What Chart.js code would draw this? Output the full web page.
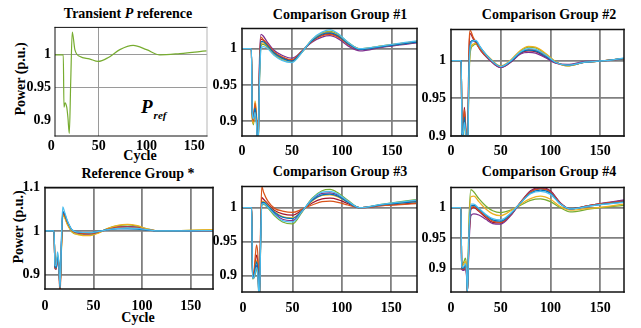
<!DOCTYPE html>
<html>
<head>
<meta charset="utf-8">
<script src="https://cdn.jsdelivr.net/npm/chart.js@4.4.0/dist/chart.umd.min.js"></script>
<style>
  html, body { margin: 0; padding: 0; background: #fff; }
  #page { position: relative; width: 641px; height: 328px; overflow: hidden; font-family: "Liberation Serif", "Times New Roman", serif; }
  #page canvas { position: absolute; }
  .lbl { position: absolute; font-weight: bold; font-size: 14px; line-height: 14px; white-space: nowrap; color: #000; }
  .ctr { transform: translateX(-50%); }
  .rot { transform: translate(-50%, -50%) rotate(-90deg); }
</style>
</head>
<body>
<div id="page">
  <div class="lbl ctr" style="left:128px; top:7px;">Transient <i>P</i> reference</div>
  <div class="lbl ctr" style="left:340px; top:8px;">Comparison Group #1</div>
  <div class="lbl ctr" style="left:549px; top:8px;">Comparison Group #2</div>
  <div class="lbl ctr" style="left:138px; top:167px;">Reference Group *</div>
  <div class="lbl ctr" style="left:340px; top:165px;">Comparison Group #3</div>
  <div class="lbl ctr" style="left:549px; top:165px;">Comparison Group #4</div>
  <div class="lbl ctr" style="left:140px; top:149px;">Cycle</div>
  <div class="lbl ctr" style="left:138px; top:311px;">Cycle</div>
  <div class="lbl rot" style="left:21px; top:79px;">Power (p.u.)</div>
  <div class="lbl rot" style="left:19px; top:227px;">Power (p.u.)</div>
  <div class="lbl" style="left:141px; top:97px; font-size:19px; line-height:19px; font-style:italic;">P<span style="font-size:11px; position:relative; top:6px; margin-left:1px;">ref</span></div>
</div>
<script>
// tick labels
const xTicks = [0, 50, 100, 150];
const refYTicks = [0.9, 1, 1.1];
const groupYTicks = [0.9, 0.95, 1];

// MATLAB default line colours: blue, orange, yellow, purple, green, cyan, red
const palette = ["#0072BD", "#D95319", "#EDB120", "#7E2F8E", "#77AC30", "#4DBEEE", "#A2142F"];

// transient P reference (single trace)
const pRefCycles = [4, 12.7, 13.4, 14.5, 16.3, 17.5, 19, 20.5, 22.1, 24.9, 30.2, 40, 49.3, 60, 72, 86, 100, 114, 135, 163];
const pRefPower = [1, 1, 0.920, 0.9266, 0.920, 0.905, 0.880, 0.96, 1.035, 1.0075, 0.9975, 0.994, 0.990, 0.996, 1.008, 1.0144, 1.008, 1.000, 1.002, 1.006];

// reference group *
const refCycles = [0, 9.3, 10.3, 11.5, 12.9, 14.2, 15.5, 17, 18.3, 20, 23, 28, 35, 45, 55, 65, 75, 85, 95, 105, 118, 140, 173];
const refPower = [
  [1, 1, 0.918, 0.915, 0.940, 0.925, 0.87, 0.98, 1.045, 1.040, 1.022, 1.002, 0.997, 0.996, 0.999, 1.003, 1.005, 1.005, 1.004, 1.002, 1.000, 1.000, 1.001],
  [1, 1, 0.915, 0.913, 0.936, 0.920, 0.85, 0.97, 1.040, 1.036, 1.020, 1.001, 0.996, 0.994, 0.998, 1.004, 1.008, 1.009, 1.007, 1.003, 1.000, 1.000, 1.001],
  [1, 1, 0.920, 0.918, 0.945, 0.928, 0.87, 0.96, 1.035, 1.032, 1.015, 0.998, 0.991, 0.989, 0.995, 1.006, 1.013, 1.015, 1.012, 1.005, 1.000, 1.001, 1.003],
  [1, 1, 0.914, 0.912, 0.938, 0.922, 0.87, 0.975, 1.042, 1.038, 1.021, 1.000, 0.995, 0.993, 0.997, 1.004, 1.009, 1.010, 1.008, 1.003, 1.000, 1.000, 1.001],
  [1, 1, 0.919, 0.916, 0.942, 0.926, 0.87, 0.965, 1.036, 1.033, 1.016, 0.997, 0.992, 0.990, 0.996, 1.006, 1.012, 1.014, 1.011, 1.005, 1.000, 1.001, 1.002],
  [1, 1, 0.921, 0.920, 0.952, 0.930, 0.87, 0.99, 1.055, 1.045, 1.024, 1.002, 0.997, 0.996, 0.999, 1.003, 1.006, 1.007, 1.006, 1.003, 1.000, 1.000, 1.001],
  [1, 1, 0.916, 0.914, 0.937, 0.921, 0.86, 0.972, 1.041, 1.037, 1.020, 1.000, 0.995, 0.993, 0.997, 1.004, 1.009, 1.010, 1.008, 1.003, 1.000, 1.000, 1.001]
];

// comparison group #1
const group1Cycles = [0, 9.4, 10.2, 11.5, 13, 14.5, 16, 17.5, 19, 21, 25, 32, 40, 50, 60, 70, 80, 88, 96, 106, 118, 140, 175];
const group1Power = [
  [1, 1, 0.912, 0.905, 0.918, 0.902, 0.86, 0.965, 1.010, 1.010, 1.005, 0.994, 0.987, 0.983, 0.996, 1.011, 1.020, 1.022, 1.018, 1.007, 0.999, 1.003, 1.009],
  [1, 1, 0.908, 0.900, 0.925, 0.905, 0.86, 0.975, 1.016, 1.013, 1.007, 0.996, 0.989, 0.985, 0.997, 1.010, 1.018, 1.020, 1.016, 1.006, 0.999, 1.003, 1.009],
  [1, 1, 0.910, 0.897, 0.928, 0.910, 0.86, 0.960, 1.006, 1.008, 1.004, 0.993, 0.986, 0.982, 0.996, 1.012, 1.021, 1.023, 1.019, 1.008, 1.000, 1.004, 1.010],
  [1, 1, 0.915, 0.908, 0.920, 0.900, 0.86, 0.985, 1.020, 1.018, 1.010, 0.998, 0.991, 0.987, 0.997, 1.009, 1.016, 1.018, 1.014, 1.004, 0.997, 1.002, 1.008],
  [1, 1, 0.905, 0.895, 0.915, 0.898, 0.86, 0.958, 1.004, 1.006, 1.003, 0.992, 0.985, 0.982, 0.995, 1.012, 1.022, 1.024, 1.020, 1.009, 1.000, 1.004, 1.010],
  [1, 1, 0.913, 0.903, 0.912, 0.895, 0.86, 0.955, 1.000, 1.003, 1.001, 0.991, 0.984, 0.981, 0.995, 1.013, 1.023, 1.026, 1.021, 1.009, 1.000, 1.004, 1.011],
  [1, 1, 0.911, 0.902, 0.922, 0.904, 0.86, 0.970, 1.013, 1.012, 1.006, 0.995, 0.988, 0.984, 0.996, 1.011, 1.019, 1.021, 1.017, 1.007, 0.999, 1.003, 1.009]
];

// comparison group #2
const group2Cycles = [0, 10.3, 11, 12, 13.5, 15, 16.5, 18, 19.5, 22, 25, 30, 38, 50, 60, 70, 78, 85, 95, 105, 117, 135, 155, 175];
const group2Power = [
  [1, 1, 0.902, 0.900, 0.925, 0.900, 0.86, 0.985, 1.022, 1.027, 1.026, 1.017, 1.004, 0.992, 0.999, 1.011, 1.014, 1.013, 1.006, 0.998, 0.994, 0.998, 1.000, 1.003],
  [1, 1, 0.900, 0.905, 0.935, 0.905, 0.86, 1.010, 1.040, 1.032, 1.025, 1.014, 1.003, 0.992, 0.999, 1.011, 1.015, 1.014, 1.007, 0.998, 0.994, 0.998, 1.000, 1.003],
  [1, 1, 0.903, 0.898, 0.920, 0.902, 0.86, 0.975, 1.015, 1.022, 1.023, 1.016, 1.005, 0.993, 1.001, 1.014, 1.019, 1.018, 1.010, 0.999, 0.993, 0.998, 1.000, 1.003],
  [1, 1, 0.901, 0.897, 0.928, 0.903, 0.86, 0.990, 1.025, 1.026, 1.024, 1.014, 1.002, 0.991, 0.998, 1.009, 1.011, 1.010, 1.004, 0.997, 0.995, 0.999, 1.000, 1.003],
  [1, 1, 0.899, 0.893, 0.915, 0.905, 0.86, 0.970, 1.012, 1.020, 1.022, 1.015, 1.004, 0.992, 1.000, 1.013, 1.018, 1.017, 1.009, 0.999, 0.993, 0.998, 1.000, 1.003],
  [1, 1, 0.904, 0.902, 0.918, 0.900, 0.86, 0.980, 1.020, 1.026, 1.027, 1.017, 1.004, 0.992, 1.000, 1.012, 1.016, 1.015, 1.008, 0.998, 0.994, 0.998, 1.000, 1.004],
  [1, 1, 0.900, 0.906, 0.938, 0.904, 0.86, 1.005, 1.036, 1.030, 1.024, 1.013, 1.002, 0.991, 0.998, 1.010, 1.013, 1.012, 1.005, 0.997, 0.994, 0.998, 1.000, 1.003]
];

// comparison group #3
const group3Cycles = [0, 8.8, 9.6, 11, 12.5, 13.8, 15.2, 16.5, 17.8, 19, 21, 25, 32, 40, 50, 60, 70, 80, 88, 96, 106, 118, 140, 175];
const group3Power = [
  [1, 1, 0.898, 0.900, 0.912, 0.920, 0.905, 0.86, 0.950, 1.008, 1.008, 1.003, 0.993, 0.986, 0.984, 0.996, 1.011, 1.019, 1.020, 1.017, 1.008, 1.000, 1.004, 1.009],
  [1, 1, 0.902, 0.905, 0.930, 0.945, 0.925, 0.86, 0.970, 1.031, 1.022, 1.010, 0.999, 0.995, 0.993, 0.998, 1.004, 1.009, 1.0096, 1.008, 1.004, 1.000, 1.003, 1.006],
  [1, 1, 0.899, 0.901, 0.915, 0.922, 0.908, 0.86, 0.952, 1.009, 1.009, 1.004, 0.994, 0.987, 0.985, 0.996, 1.010, 1.018, 1.019, 1.016, 1.008, 1.000, 1.004, 1.009],
  [1, 1, 0.897, 0.898, 0.908, 0.915, 0.900, 0.86, 0.945, 1.006, 1.007, 1.002, 0.991, 0.983, 0.981, 0.995, 1.012, 1.021, 1.022, 1.019, 1.009, 1.000, 1.004, 1.010],
  [1, 1, 0.895, 0.896, 0.902, 0.910, 0.896, 0.86, 0.940, 1.004, 1.005, 1.000, 0.988, 0.979, 0.976, 0.994, 1.014, 1.025, 1.027, 1.022, 1.011, 1.000, 1.005, 1.012],
  [1, 1, 0.896, 0.897, 0.905, 0.912, 0.898, 0.86, 0.943, 1.005, 1.006, 1.001, 0.990, 0.981, 0.979, 0.995, 1.013, 1.023, 1.024, 1.020, 1.010, 1.000, 1.005, 1.011],
  [1, 1, 0.900, 0.903, 0.920, 0.930, 0.915, 0.86, 0.960, 1.015, 1.012, 1.006, 0.996, 0.991, 0.989, 0.997, 1.007, 1.013, 1.014, 1.012, 1.006, 1.000, 1.003, 1.007]
];

// comparison group #4
const group4Cycles = [0, 10, 10.8, 12, 13.2, 14.4, 15.5, 16.5, 18, 20, 23, 28, 35, 42, 50, 60, 70, 80, 90, 100, 110, 120, 140, 175];
const group4Power = [
  [1, 1, 0.902, 0.900, 0.902, 0.905, 0.897, 0.86, 0.950, 1.003, 1.004, 0.998, 0.988, 0.980, 0.978, 0.990, 1.008, 1.024, 1.029, 1.024, 1.006, 0.998, 1.003, 1.010],
  [1, 1, 0.901, 0.899, 0.900, 0.903, 0.895, 0.86, 0.945, 1.000, 1.002, 0.996, 0.986, 0.978, 0.976, 0.989, 1.009, 1.026, 1.031, 1.026, 1.007, 0.998, 1.004, 1.011],
  [1, 1, 0.904, 0.905, 0.908, 0.912, 0.902, 0.86, 0.965, 1.018, 1.019, 1.010, 0.998, 0.990, 0.987, 0.995, 1.006, 1.015, 1.019, 1.014, 1.002, 0.996, 0.999, 1.006],
  [1, 1, 0.899, 0.897, 0.897, 0.900, 0.892, 0.86, 0.935, 0.987, 0.990, 0.988, 0.981, 0.974, 0.973, 0.987, 1.009, 1.027, 1.032, 1.027, 1.008, 0.998, 1.004, 1.013],
  [1, 1, 0.905, 0.908, 0.912, 0.917, 0.905, 0.86, 0.975, 1.030, 1.026, 1.015, 1.003, 0.995, 0.992, 0.996, 1.004, 1.012, 1.0144, 1.010, 1.000, 0.993, 0.998, 1.004],
  [1, 1, 0.903, 0.902, 0.904, 0.908, 0.899, 0.86, 0.955, 1.006, 1.006, 0.999, 0.989, 0.982, 0.980, 0.991, 1.008, 1.023, 1.027, 1.022, 1.006, 0.998, 1.003, 1.009],
  [1, 1, 0.900, 0.898, 0.899, 0.902, 0.894, 0.86, 0.942, 0.997, 1.000, 0.994, 0.984, 0.976, 0.975, 0.988, 1.009, 1.028, 1.0335, 1.028, 1.008, 0.998, 1.004, 1.012]
];

// where each axes box sits on the page
const panels = [
  { left: 55, top: 25, right: 207, bottom: 136, xMin: 4, xMax: 163.4, yMin: 0.876, yMax: 1.042,
    yTicks: groupYTicks, cycles: pRefCycles, series: [pRefPower], colors: ["#77AC30"],
    thin: true, hideX: [0, 100, 150], hideY: [0.9], xPad: 2, yPad: 4 },
  { left: 242, top: 25, right: 417, bottom: 136, xMin: 0, xMax: 175, yMin: 0.8795, yMax: 1.0281,
    yTicks: groupYTicks, cycles: group1Cycles, series: group1Power, colors: palette,
    hideX: [0], hideY: [], xPad: 7, yPad: 5 },
  { left: 451, top: 26, right: 624, bottom: 136, xMin: 0, xMax: 174, yMin: 0.9, yMax: 1.0416,
    yTicks: groupYTicks, cycles: group2Cycles, series: group2Power, colors: palette,
    hideX: [0], hideY: [], xPad: 7, yPad: 5 },
  { left: 45, top: 184, right: 213, bottom: 289, xMin: 0, xMax: 173, yMin: 0.8667, yMax: 1.1,
    yTicks: refYTicks, cycles: refCycles, series: refPower, colors: palette,
    hideX: [0], hideY: [], xPad: 8.5, yPad: 5 },
  { left: 242, top: 183, right: 417, bottom: 292, xMin: -1, xMax: 176, yMin: 0.8757, yMax: 1.0314,
    yTicks: groupYTicks, cycles: group3Cycles, series: group3Power, colors: palette,
    hideX: [0], hideY: [], xPad: 7.5, yPad: 5 },
  { left: 451, top: 184, right: 624, bottom: 292, xMin: 0, xMax: 174, yMin: 0.8612, yMax: 1.0335,
    yTicks: groupYTicks, cycles: group4Cycles, series: group4Power, colors: palette,
    hideX: [0], hideY: [], xPad: 7.5, yPad: 5 }
];

const Y_AXIS_W = 40;
const X_AXIS_H = 24;
const PAD_TOP = 10;
const PAD_RIGHT = 10;
const CYAN_INDEX = 5;
const tickFont = { family: "'Liberation Serif', 'Times New Roman', serif", size: 14, weight: "bold" };

const framePlugin = {
  id: "frame",
  afterDatasetsDraw(chart, args, opts) {
    const { ctx, chartArea: a } = chart;
    const side = (x1, y1, x2, y2, color) => {
      ctx.strokeStyle = color;
      ctx.beginPath();
      ctx.moveTo(x1, y1);
      ctx.lineTo(x2, y2);
      ctx.stroke();
    };
    ctx.save();
    ctx.lineWidth = opts.width;
    ctx.lineCap = "square";
    side(a.left, a.top, a.right, a.top, opts.topColor);
    side(a.right, a.top, a.right, a.bottom, opts.rightColor);
    side(a.left, a.bottom, a.right, a.bottom, "#111");
    side(a.left, a.top, a.left, a.bottom, "#111");
    ctx.restore();
  }
};

const page = document.getElementById("page");

function makePanel(p) {
  const canvas = document.createElement("canvas");
  const w = Y_AXIS_W + (p.right - p.left) + PAD_RIGHT;
  const h = PAD_TOP + (p.bottom - p.top) + X_AXIS_H;
  canvas.width = w;
  canvas.height = h;
  canvas.style.left = (p.left - Y_AXIS_W) + "px";
  canvas.style.top = (p.top - PAD_TOP) + "px";
  canvas.style.width = w + "px";
  canvas.style.height = h + "px";
  page.appendChild(canvas);

  const gridColor = p.thin ? "#9a9a9a" : "#808080";
  const gridWidth = p.thin ? 1 : 1.8;

  const datasets = p.series.map((values, i) => ({
    data: p.cycles.map((c, j) => ({ x: c, y: values[j] })),
    borderColor: p.colors[i % p.colors.length],
    borderWidth: p.thin ? 1.2 : 1.25,
    pointRadius: 0,
    fill: false,
    cubicInterpolationMode: "monotone",
    // cyan sits on top of the bundle, as in the figure
    order: i === CYAN_INDEX ? -1 : 0
  }));

  new Chart(canvas, {
    type: "line",
    data: { datasets },
    plugins: [framePlugin],
    options: {
      responsive: false,
      animation: false,
      events: [],
      layout: { padding: { top: PAD_TOP, right: PAD_RIGHT, left: 0, bottom: 0 } },
      plugins: {
        legend: { display: false },
        tooltip: { enabled: false },
        frame: { width: p.thin ? 1 : 1.5, topColor: "#111", rightColor: p.thin ? "#b5b5b5" : "#111" }
      },
      scales: {
        x: {
          type: "linear",
          min: p.xMin,
          max: p.xMax,
          afterBuildTicks: (s) => { s.ticks = xTicks.map((v) => ({ value: v })); },
          afterFit: (s) => { s.height = X_AXIS_H; },
          border: { display: false },
          grid: {
            drawTicks: false,
            lineWidth: gridWidth,
            color: (ctx) => (ctx.tick && p.hideX.includes(ctx.tick.value) ? "rgba(0,0,0,0)" : gridColor)
          },
          ticks: { font: tickFont, color: "#000", padding: p.xPad, maxRotation: 0, autoSkip: false }
        },
        y: {
          min: p.yMin,
          max: p.yMax,
          afterBuildTicks: (s) => { s.ticks = p.yTicks.map((v) => ({ value: v })); },
          afterFit: (s) => { s.width = Y_AXIS_W; },
          border: { display: false },
          grid: {
            drawTicks: false,
            lineWidth: gridWidth,
            color: (ctx) => (ctx.tick && p.hideY.includes(ctx.tick.value) ? "rgba(0,0,0,0)" : gridColor)
          },
          ticks: {
            font: tickFont,
            color: "#000",
            padding: p.yPad,
            autoSkip: false,
            callback: (v) => String(+Number(v).toFixed(2))
          }
        }
      }
    }
  });
}

panels.forEach(makePanel);
</script>
</body>
</html>
